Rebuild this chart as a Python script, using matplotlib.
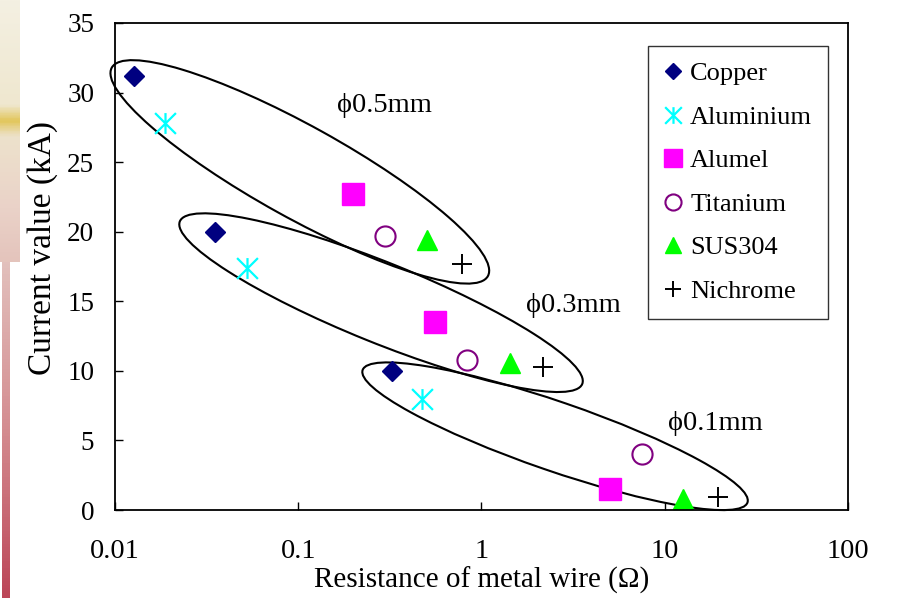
import numpy as np
import matplotlib.pyplot as plt
from matplotlib.path import Path
from matplotlib.patches import Ellipse
from matplotlib.transforms import ScaledTranslation
from matplotlib.colors import LinearSegmentedColormap

plt.rcParams['font.family'] = ['Liberation Serif', 'DejaVu Serif']

# wire diameters: 0.5 mm, 0.3 mm, 0.1 mm
diam_labels = ['\u03d50.5mm', '\u03d50.3mm', '\u03d50.1mm']
materials = ['Copper', 'Aluminium', 'Alumel', 'Titanium', 'SUS304', 'Nichrome']

# resistance of wire (ohm), one value per diameter
res_copper = [0.0127, 0.0351, 0.324]
res_aluminium = [0.0188, 0.0523, 0.472]
res_alumel = [0.200, 0.557, 5.02]
res_titanium = [0.297, 0.837, 7.48]
res_sus304 = [0.506, 1.43, 12.6]
res_nichrome = [0.780, 2.17, 19.6]

# current value (kA)
cur_copper = [31.2, 20.0, 10.0]
cur_aluminium = [27.8, 17.4, 8.0]
cur_alumel = [22.7, 13.5, 1.5]
cur_titanium = [19.7, 10.8, 4.0]
cur_sus304 = [19.4, 10.6, 0.8]
cur_nichrome = [17.7, 10.3, 0.9]

# group ellipse centres and label anchors (ohm, kA)
group_x = [0.102, 0.283, 2.52]
group_y = [24.3, 14.9, 5.3]
label_x = [0.297, 3.16, 19.0]
label_y = [29.1, 14.7, 6.2]

fig = plt.figure(figsize=(9.04, 5.98), dpi=100)

# bits of the slide background showing at the left edge
bg = LinearSegmentedColormap.from_list(
    'bg', [(0, '#f4f0e2'), (0.4, '#efe7cf'), (0.46, '#e2c65a'), (0.52, '#ede2cc'),
           (0.8, '#ead2c8'), (1, '#e4c4bc')])
ax_bg = fig.add_axes([0, 1 - 262 / 598, 20 / 904, 262 / 598])
ax_bg.imshow(np.linspace(0, 1, 100)[:, None], aspect='auto', cmap=bg)
ax_bg.axis('off')
bg2 = LinearSegmentedColormap.from_list('bg2', ['#e2c0bc', '#d48c90', '#bc4658'])
ax_bg2 = fig.add_axes([2 / 904, 0, 8 / 904, 1 - 262 / 598])
ax_bg2.imshow(np.linspace(0, 1, 100)[:, None], aspect='auto', cmap=bg2)
ax_bg2.axis('off')

ax = fig.add_axes([115 / 904, 88 / 598, 733 / 904, 487 / 598])
ax.set_xscale('log')
ax.set_xlim(0.01, 100)
ax.set_ylim(0, 35)

# excel style asterisk: vertical bar plus an X
star = Path([(0, -1), (0, 1), (-1, -1), (1, 1), (-1, 1), (1, -1)],
            [Path.MOVETO, Path.LINETO, Path.MOVETO, Path.LINETO, Path.MOVETO, Path.LINETO])

ax.plot(res_copper, cur_copper, ls='none', marker='D', ms=10.2, color='#000080',
        mec='#000080', label=materials[0])
ax.plot(res_aluminium, cur_aluminium, ls='none', marker=star, ms=15, color='#00ffff',
        mew=1.6, label=materials[1])
ax.plot(res_alumel, cur_alumel, ls='none', marker='s', ms=15.5, color='#ff00ff',
        label=materials[2])
ax.plot(res_titanium, cur_titanium, ls='none', marker='o', ms=14.5, mfc='none',
        mec='#800080', mew=1.5, label=materials[3])
ax.plot(res_sus304, cur_sus304, ls='none', marker='^', ms=15, color='#00ff00',
        label=materials[4])
ax.plot(res_nichrome, cur_nichrome, ls='none', marker='+', ms=15, color='black',
        mew=1.4, label=materials[5])

# ellipses drawn in screen units around each group
shapes = [(430, 92, -29), (434, 80, -22), (407, 69, -19)]
for i, (w, h, ang) in enumerate(shapes):
    tr = fig.dpi_scale_trans + ScaledTranslation(group_x[i], group_y[i], ax.transData)
    e = Ellipse((0, 0), w / 100, h / 100, angle=ang, transform=tr, fill=False,
                ec='black', lw=1.5, clip_on=False)
    ax.add_patch(e)
    ax.text(label_x[i], label_y[i], diam_labels[i], fontsize=20.5, ha='center', va='center')

ax.set_xticks([0.01, 0.1, 1, 10, 100])
ax.set_xticklabels(['0.01', '0.1', '1', '10', '100'])
ax.xaxis.set_minor_locator(plt.NullLocator())
ax.set_yticks(np.arange(0, 36, 5))
ax.tick_params(direction='in', length=6, width=1, labelsize=19.5, top=False, right=False)
ax.tick_params(axis='x', labelsize=20.5, pad=21)
ax.tick_params(axis='y', pad=15)
for s in ax.spines.values():
    s.set_linewidth(1.3)

ax.set_xlabel('Resistance of metal wire (\u03a9)', fontsize=21, labelpad=2)
ax.set_ylabel('Current value (kA)', fontsize=24)
ax.yaxis.set_label_coords(-0.0775, 0.538)

leg = ax.legend(loc='upper right', bbox_to_anchor=(0.9727, 0.9528), borderaxespad=0,
                fontsize=19, frameon=True, fancybox=False, framealpha=1, edgecolor='#333333',
                handlelength=0.7, handletextpad=0.3, labelspacing=0.76, borderpad=0.6,
                markerscale=0.8)
leg.get_frame().set_linewidth(1)

fig.savefig('out.png', dpi=100)
